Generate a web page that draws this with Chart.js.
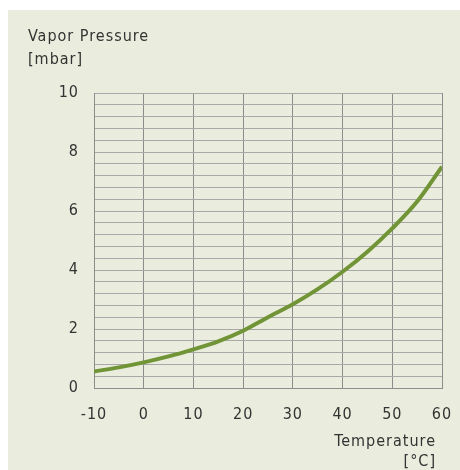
<!DOCTYPE html>
<html>
<head>
<meta charset="utf-8">
<script src="https://cdn.jsdelivr.net/npm/chart.js@4"></script>
<style>
  html, body { margin: 0; padding: 0; background: #ffffff; }
  #wrap { position: relative; width: 460px; height: 470px; }
</style>
</head>
<body>
<div id="wrap"><canvas id="c" width="460" height="470"></canvas></div>
<script>
const temperatures = [-10, -5, 0, 5, 10, 15, 20, 25, 30, 35, 40, 45, 50, 55, 60];
const vaporPressure = [0.56, 0.70, 0.87, 1.07, 1.31, 1.58, 1.94, 2.40, 2.84, 3.35, 3.94, 4.62, 5.41, 6.32, 7.50];
const xTicks = [-10, 0, 10, 20, 30, 40, 50, 60];
const yTicks = [0, 2, 4, 6, 8, 10];
const yTitle = ['Vapor Pressure', '[mbar]'];
const xTitle = ['Temperature', '[°C]'];

const FONT = '"DejaVu Sans Condensed", "DejaVu Sans", sans-serif';
const TEXT = '#333333';

const decor = {
  id: 'decor',
  beforeDraw(chart) {
    const ctx = chart.ctx;
    ctx.letterSpacing = '1px';
    ctx.save();
    ctx.fillStyle = '#eaeddd';
    ctx.fillRect(8, 10, 452, 460);
    ctx.restore();
  },
  afterDraw(chart) {
    const ctx = chart.ctx;
    ctx.save();
    ctx.letterSpacing = '1px';
    ctx.fillStyle = TEXT;
    ctx.font = '16px ' + FONT;
    ctx.textAlign = 'left';
    ctx.textBaseline = 'alphabetic';
    ctx.fillText(yTitle[0], 28, 41);
    ctx.fillText(yTitle[1], 28, 64);
    ctx.textAlign = 'right';
    ctx.fillText(xTitle[0], 436, 446);
    ctx.fillText(xTitle[1], 436, 466);
    ctx.restore();
  }
};

new Chart(document.getElementById('c'), {
  type: 'line',
  data: {
    datasets: [{
      data: temperatures.map((t, i) => ({ x: t, y: vaporPressure[i] })),
      borderColor: '#719437',
      borderWidth: 4,
      pointRadius: 0,
      cubicInterpolationMode: 'monotone',
      fill: false
    }]
  },
  options: {
    responsive: false,
    animation: false,
    layout: { padding: { left: 0, top: 93, right: 18, bottom: 0 } },
    plugins: { legend: { display: false }, tooltip: { enabled: false }, title: { display: false } },
    scales: {
      x: {
        type: 'linear',
        min: -10, max: 60,
        afterBuildTicks(scale) { scale.ticks = xTicks.map(v => ({ value: v })); },
        afterFit(scale) { scale.height = 82; scale.paddingRight = 0; scale.paddingLeft = 0; },
        grid: { color: '#8c8c8c', lineWidth: 1, drawTicks: false },
        border: { color: '#8c8c8c', width: 1 },
        ticks: { color: TEXT, font: { family: FONT, size: 16 }, padding: 17, maxRotation: 0 }
      },
      y: {
        type: 'linear',
        min: 0, max: 10,
        afterBuildTicks(scale) {
          const t = [];
          for (let i = 0; i <= 25; i++) t.push({ value: Math.round(i * 4) / 10 });
          scale.ticks = t;
        },
        afterFit(scale) { scale.width = 94; scale.paddingTop = 0; scale.paddingBottom = 0; },
        grid: { color: '#a8a8a8', lineWidth: 1, drawTicks: false },
        border: { color: '#8c8c8c', width: 1 },
        ticks: {
          color: TEXT, font: { family: FONT, size: 16 }, padding: 15, autoSkip: false,
          callback(v) { return yTicks.includes(v) ? String(v) : ''; }
        }
      }
    }
  },
  plugins: [decor]
});
</script>
</body>
</html>
